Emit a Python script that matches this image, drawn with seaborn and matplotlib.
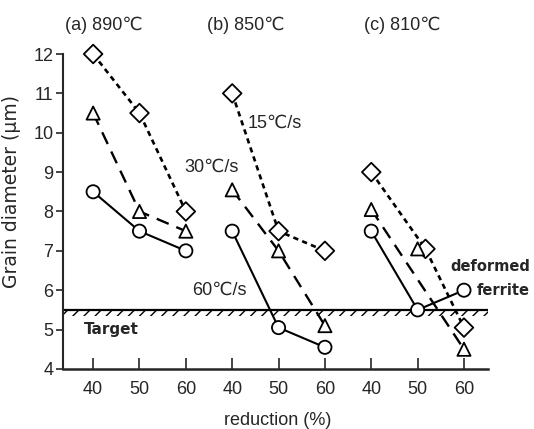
# Grain diameter vs reduction for three finishing temperatures
import numpy as np
import pandas as pd
import seaborn as sns
import matplotlib
matplotlib.use('Agg')
import matplotlib.pyplot as plt

# --- data ---
titles = ['(a) 890℃', '(b) 850℃', '(c) 810℃']
reduction = [40, 50, 60]
tick_labels = ['40', '50', '60']

a_15 = [12.0, 10.5, 8.0]
a_30 = [10.5, 8.0, 7.5]
a_60 = [8.5, 7.5, 7.0]

b_15 = [11.0, 7.5, 7.0]
b_30 = [8.55, 7.0, 5.1]
b_60 = [7.5, 5.05, 4.55]

c_15_red = [40, 51.7, 60]
c_15 = [9.0, 7.05, 5.05]
c_30 = [8.05, 7.05, 4.5]
c_60_red = [40, 50]
c_60 = [7.5, 5.5]
ferrite_red = [50, 60]
ferrite = [5.5, 6.0]

target = 5.5

sns.set_style('ticks')
plt.rcParams['font.family'] = ['Liberation Sans', 'DejaVu Sans']
plt.rcParams['hatch.linewidth'] = 1.0

gap = 30  # shift between panels along the shared x axis

rows = []
for g, (s15, s30, s60, r15, r60) in enumerate([
        (a_15, a_30, a_60, reduction, reduction),
        (b_15, b_30, b_60, reduction, reduction),
        (c_15, c_30, c_60 + [ferrite[1]], c_15_red, reduction)]):
    for r, v in zip(r15, s15):
        rows.append((r + g * gap, v, '15'))
    for r, v in zip(reduction, s30):
        rows.append((r + g * gap, v, '30'))
    for r, v in zip(r60, s60):
        rows.append((r + g * gap, v, '60'))
df = pd.DataFrame(rows, columns=['pos', 'diam', 'rate'])

fig = plt.figure(figsize=(5.34, 4.29), dpi=100)
ax = fig.add_axes([0.118, 0.14, 0.796, 0.78])

styles = {'15': dict(ls=(0, (2.0, 1.6)), lw=1.9),
          '30': dict(ls=(0, (5.5, 3.5)), lw=1.7),
          '60': dict(ls='-', lw=1.5)}

def curve(xs, ys, rate, g):
    sns.lineplot(x=[r + g * gap for r in xs], y=ys, sort=False, estimator=None,
                 color='black', zorder=2, ax=ax, **styles[rate])

# panel a and b
for g, (s15, s30, s60) in enumerate([(a_15, a_30, a_60), (b_15, b_30, b_60)]):
    curve(reduction, s15, '15', g)
    curve(reduction, s30, '30', g)
    curve(reduction, s60, '60', g)

# panel c: the dashed line skips the 50 % triangle
curve(c_15_red, c_15, '15', 2)
curve([reduction[0], reduction[2]], [c_30[0], c_30[2]], '30', 2)
curve(c_60_red, c_60, '60', 2)
curve(ferrite_red, ferrite, '60', 2)

sns.scatterplot(data=df, x='pos', y='diam', style='rate',
                markers={'15': 'D', '30': '^', '60': 'o'},
                s=90, color='white', edgecolor='black', linewidth=1.3,
                legend=False, zorder=3, clip_on=False, ax=ax)

# target line with hatching below
ax.axhline(target, color='black', lw=1.6, zorder=2)
ax.axhspan(target - 0.16, target, facecolor='none', edgecolor='black',
           hatch='///', linewidth=0, zorder=1)

ax.set_xlim(33.5, 125.2)
ax.set_ylim(4, 12.5)
ticks = [r + g * gap for g in range(3) for r in reduction]
ax.set_xticks(ticks)
ax.set_xticklabels(tick_labels * 3)
ax.set_yticks(range(4, 13))
ax.set_xlabel('')
ax.set_ylabel('')

sns.despine(ax=ax)
ax.spines['left'].set_bounds(4, 12)
ax.spines['left'].set_linewidth(1.5)
ax.spines['bottom'].set_linewidth(1.8)
ax.tick_params(axis='y', direction='out', length=5, width=1.2, labelsize=13, pad=2)
ax.tick_params(axis='x', direction='in', length=8, width=1.2, labelsize=13, pad=9)

ax.set_xlabel('reduction (%)', fontsize=13)
ax.xaxis.set_label_coords(0.506, -0.13)
ax.set_ylabel('Grain diameter (μm)', fontsize=13.5, family='DejaVu Sans')
ax.yaxis.set_label_coords(-0.1, 0.53)

for x, t in zip([42.2, 73.0, 106.6], titles):
    ax.text(x, 12.74, t, fontsize=13, ha='center', va='center')

ax.text(79.2, 10.25, '15℃/s', fontsize=13, ha='center', va='center')
ax.text(65.6, 9.13, '30℃/s', fontsize=13, ha='center', va='center')
ax.text(67.2, 6.01, '60℃/s', fontsize=13, ha='center', va='center')
ax.text(44.0, 5.0, 'Target', fontsize=11, ha='center', va='center',
        family='DejaVu Sans', fontweight='bold')
ax.text(134.2, 6.6, 'deformed', fontsize=10.5, ha='right', va='center',
        family='DejaVu Sans', fontweight='bold', clip_on=False)
ax.text(134.2, 6.0, 'ferrite', fontsize=10.5, ha='right', va='center',
        family='DejaVu Sans', fontweight='bold', clip_on=False)

fig.savefig('out.png', dpi=100)
